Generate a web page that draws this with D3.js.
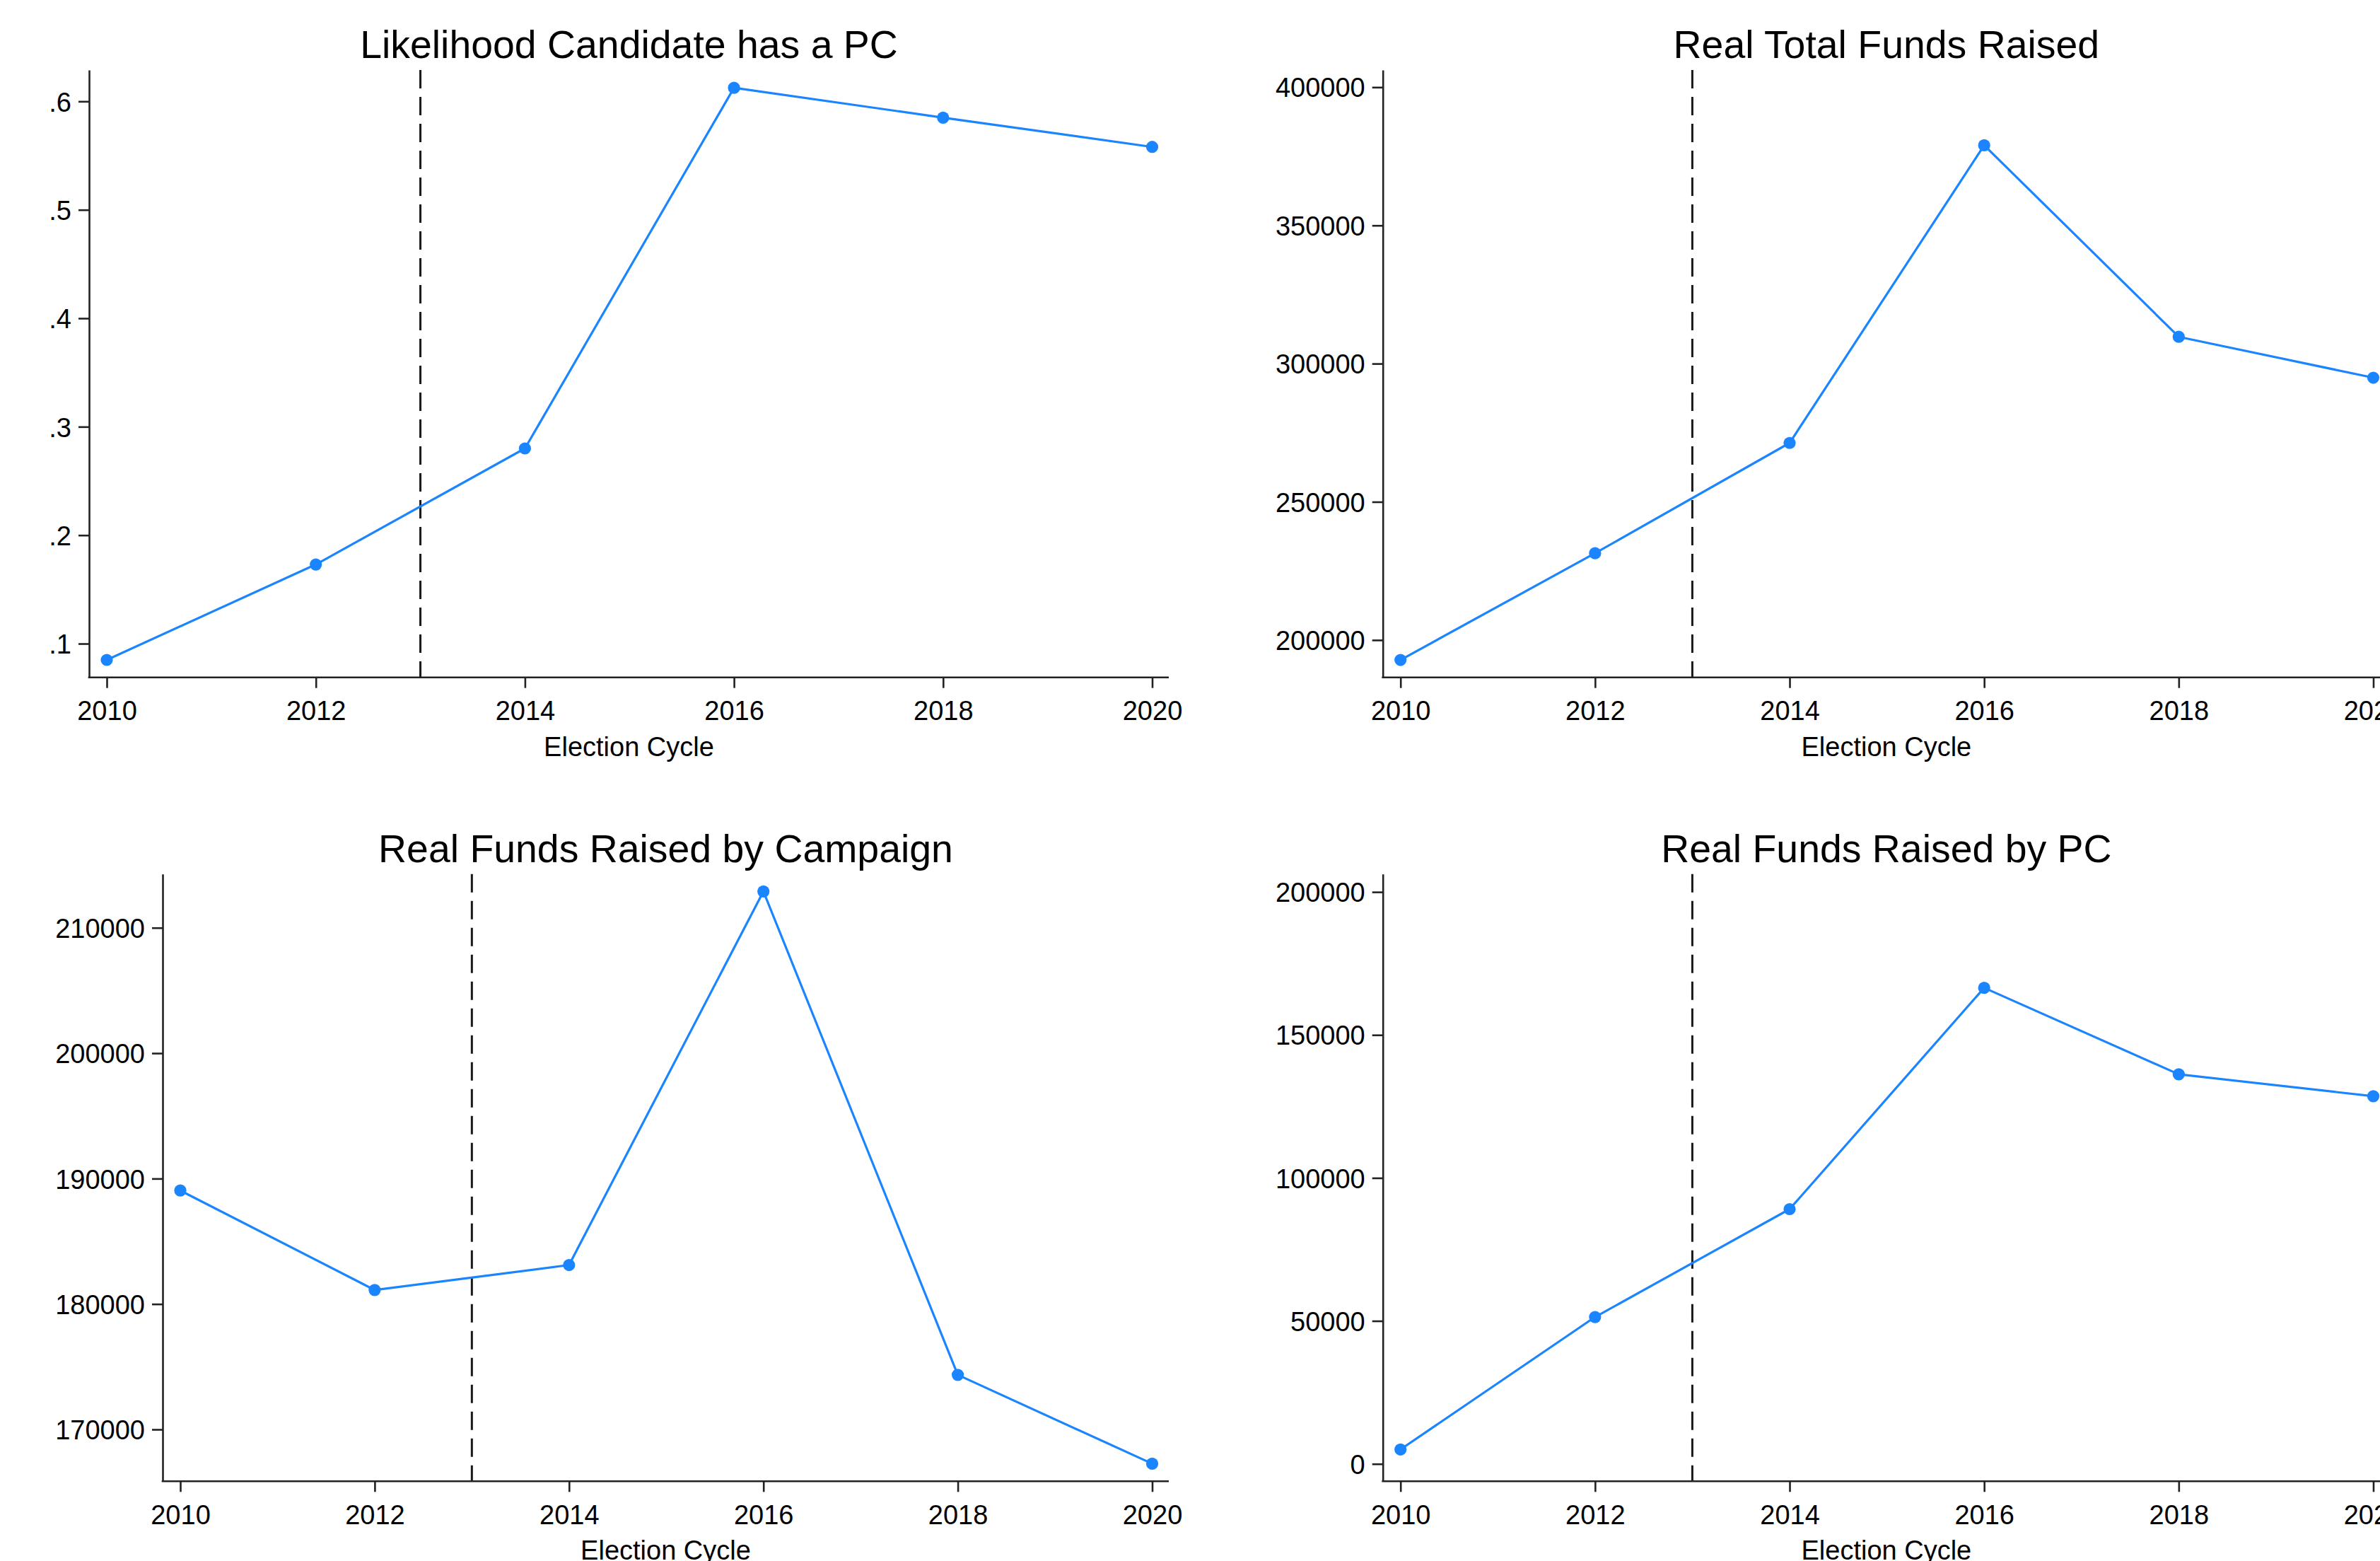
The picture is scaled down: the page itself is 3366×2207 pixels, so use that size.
<!DOCTYPE html>
<html>
<head>
<meta charset="utf-8">
<script src="https://cdn.jsdelivr.net/npm/d3@7"></script>
<style>
  html, body { margin: 0; padding: 0; background: #ffffff; }
  svg { display: block; }
  text { font-family: "Liberation Sans", Arial, sans-serif; fill: #000; }
</style>
</head>
<body>
<svg id="chart" width="3366" height="2207"></svg>
<script>
// Election cycles shown on every panel
const cycles = [2010, 2012, 2014, 2016, 2018, 2020];
const cycleTicks = [2010, 2012, 2014, 2016, 2018, 2020];
const policyYear = 2013;

// Series values per panel
const pcLikelihood = [0.085, 0.173, 0.280, 0.6125, 0.585, 0.558];
const totalFunds = [192800, 231400, 271300, 379000, 309700, 294900];
const campaignFunds = [189050, 181120, 183110, 212900, 174350, 167270];
const pcFunds = [5050, 51360, 89090, 166480, 136240, 128570];

// Y tick values and labels
const pcLikelihoodTicks = [0.1, 0.2, 0.3, 0.4, 0.5, 0.6];
const pcLikelihoodTickLabels = [".1", ".2", ".3", ".4", ".5", ".6"];
const totalFundsTicks = [200000, 250000, 300000, 350000, 400000];
const campaignFundsTicks = [170000, 180000, 190000, 200000, 210000];
const pcFundsTicks = [0, 50000, 100000, 150000, 200000];

// Panel titles
const titles = [
  "Likelihood Candidate has a PC",
  "Real Total Funds Raised",
  "Real Funds Raised by Campaign",
  "Real Funds Raised by PC"
];
const xTitle = "Election Cycle";

// Panel definitions: values, y extent of the plot region, ticks, and pixel frame
const panels = [
  { title: titles[0], values: pcLikelihood, yDomain: [0.0689, 0.6289],
    ticks: pcLikelihoodTicks, tickLabels: pcLikelihoodTickLabels,
    frame: { left: 126, right: 1653, top: 99, bottom: 957.7 } },
  { title: titles[1], values: totalFunds, yDomain: [186490, 406220],
    ticks: totalFundsTicks, tickLabels: totalFundsTicks.map(String),
    frame: { left: 1955.7, right: 3380, top: 99, bottom: 957.7 } },
  { title: titles[2], values: campaignFunds, yDomain: [165866, 214287],
    ticks: campaignFundsTicks, tickLabels: campaignFundsTicks.map(String),
    frame: { left: 230, right: 1653, top: 1235.7, bottom: 2094.3 } },
  { title: titles[3], values: pcFunds, yDomain: [-6086, 206284],
    ticks: pcFundsTicks, tickLabels: pcFundsTicks.map(String),
    frame: { left: 1955.7, right: 3380, top: 1235.7, bottom: 2094.3 } }
];

const lineColor = "#1a85ff";
const axisColor = "#222222";
const svg = d3.select("#chart");

panels.forEach(p => {
  const f = p.frame;
  const g = svg.append("g");

  const x = d3.scaleLinear().domain([2010, 2020]).range([f.left + 25, f.right - 23.5]);
  const y = d3.scaleLinear().domain(p.yDomain).range([f.bottom, f.top]);

  // Reference line at the policy change
  g.append("line")
    .attr("x1", x(policyYear)).attr("x2", x(policyYear))
    .attr("y1", f.top).attr("y2", f.bottom)
    .attr("stroke", "#1a1a1a").attr("stroke-width", 3)
    .attr("stroke-dasharray", "26,12");

  // Y axis
  const yAxis = d3.axisLeft(y)
    .tickValues(p.ticks)
    .tickFormat((d, i) => p.tickLabels[i])
    .tickSize(15).tickSizeOuter(0).tickPadding(10);
  const gy = g.append("g").attr("transform", `translate(${f.left},0)`).call(yAxis);
  gy.select(".domain").attr("stroke", axisColor).attr("stroke-width", 2.6);
  gy.selectAll(".tick line").attr("stroke", axisColor).attr("stroke-width", 2.6);
  gy.selectAll(".tick text").attr("font-size", 38).attr("dy", "0.36em")
    .attr("font-family", "Liberation Sans, Arial, sans-serif").attr("fill", "#000");

  // X axis
  const xAxis = d3.axisBottom(x)
    .tickValues(cycleTicks).tickFormat(d3.format("d"))
    .tickSize(15).tickSizeOuter(0).tickPadding(18.5);
  const gx = g.append("g").attr("transform", `translate(0,${f.bottom})`).call(xAxis);
  gx.select(".domain").remove();
  gx.append("line")
    .attr("x1", f.left - 1.3).attr("x2", f.right)
    .attr("y1", 0).attr("y2", 0)
    .attr("stroke", axisColor).attr("stroke-width", 2.6);
  gx.selectAll(".tick line").attr("stroke", axisColor).attr("stroke-width", 2.6);
  gx.selectAll(".tick text").attr("font-size", 38)
    .attr("font-family", "Liberation Sans, Arial, sans-serif").attr("fill", "#000");

  // Series line and markers
  const pts = cycles.map((c, i) => [c, p.values[i]]);
  g.append("path")
    .datum(pts)
    .attr("fill", "none")
    .attr("stroke", lineColor)
    .attr("stroke-width", 3.2)
    .attr("stroke-linejoin", "round")
    .attr("d", d3.line().x(d => x(d[0])).y(d => y(d[1])));
  g.selectAll("circle.pt")
    .data(pts)
    .join("circle")
    .attr("class", "pt")
    .attr("cx", d => x(d[0]))
    .attr("cy", d => y(d[1]))
    .attr("r", 8.6)
    .attr("fill", lineColor);

  // Titles
  const cx = (f.left + f.right) / 2;
  g.append("text")
    .attr("x", cx).attr("y", f.top - 17)
    .attr("text-anchor", "middle")
    .attr("font-size", 55.4)
    .text(p.title);
  g.append("text")
    .attr("x", cx).attr("y", f.bottom + 111)
    .attr("text-anchor", "middle")
    .attr("font-size", 38)
    .text(xTitle);
});
</script>
</body>
</html>
